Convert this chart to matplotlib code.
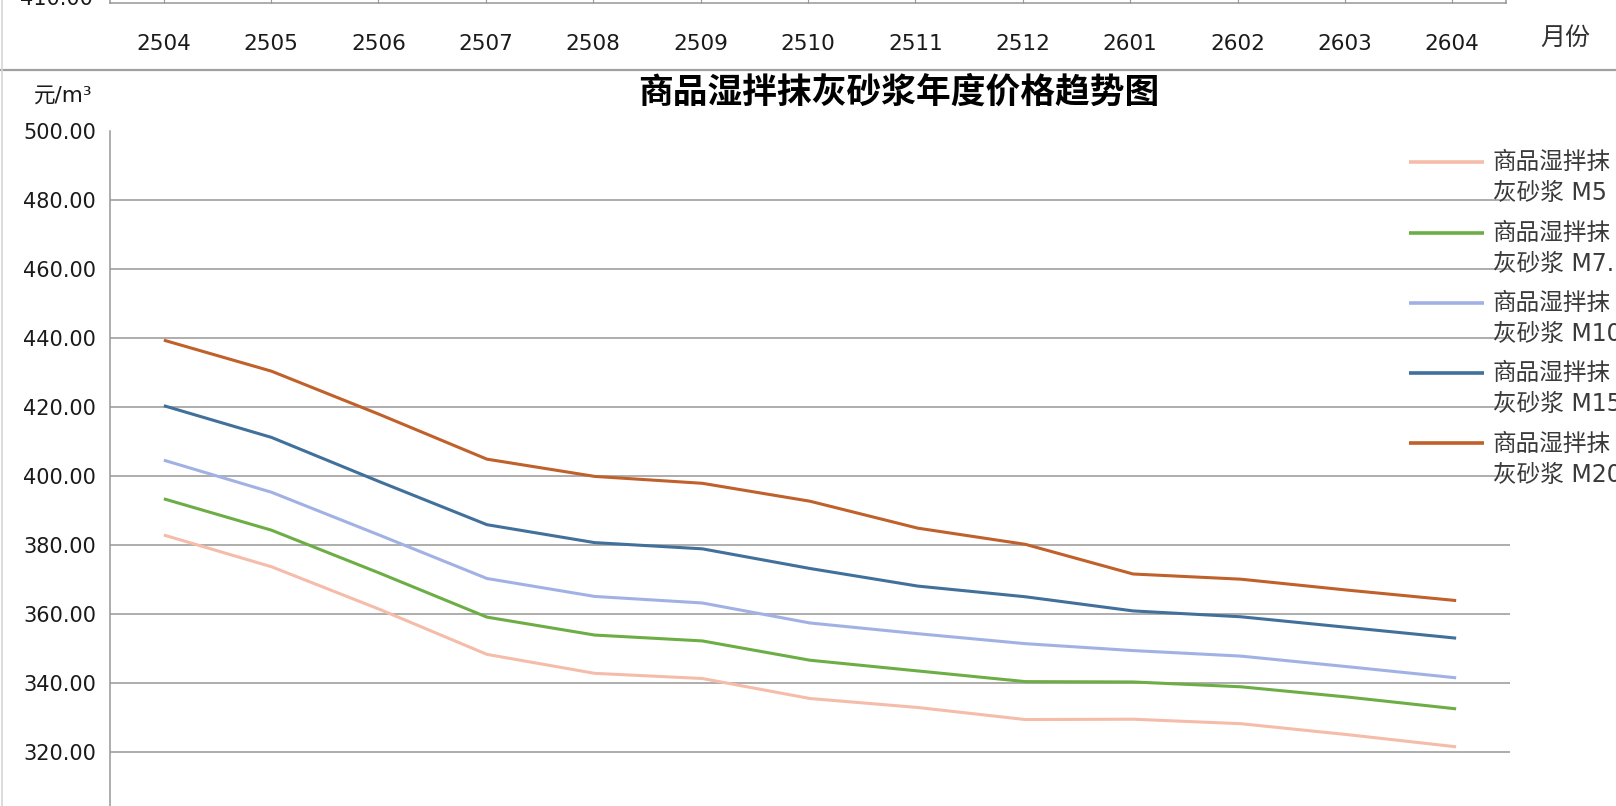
import matplotlib
matplotlib.use("Agg")
import matplotlib.pyplot as plt
from matplotlib.lines import Line2D

# months on the category axis
months = ["2504", "2505", "2506", "2507", "2508", "2509", "2510",
          "2511", "2512", "2601", "2602", "2603", "2604"]

# prices, yuan per cubic metre
m5 = [383.0, 373.8, 361.5, 348.4, 342.9, 341.4, 335.6, 333.0, 329.5, 329.6, 328.3, 325.1, 321.6]
m75 = [393.5, 384.4, 372.0, 359.2, 354.0, 352.3, 346.7, 343.6, 340.5, 340.4, 339.0, 336.0, 332.6]
m10 = [404.7, 395.4, 383.0, 370.4, 365.2, 363.3, 357.5, 354.4, 351.5, 349.5, 347.9, 344.8, 341.6]
m15 = [420.5, 411.3, 398.5, 386.0, 380.8, 379.0, 373.3, 368.2, 365.1, 361.0, 359.3, 356.2, 353.1]
m20 = [439.5, 430.5, 418.0, 405.0, 400.0, 398.0, 392.8, 385.0, 380.3, 371.7, 370.2, 367.0, 364.0]

names = ["商品湿拌抹灰砂浆 M5", "商品湿拌抹灰砂浆 M7.5", "商品湿拌抹灰砂浆 M10",
         "商品湿拌抹灰砂浆 M15", "商品湿拌抹灰砂浆 M20"]
colors = ["#f5bca9", "#6cae45", "#a2b1e3", "#41709b", "#c0602a"]

yticks = [320, 340, 360, 380, 400, 420, 440, 460, 480, 500]

W, H = 1616, 806
CJK = ["Noto Sans CJK SC", "DejaVu Sans"]
LAT = ["DejaVu Sans", "Noto Sans CJK SC"]
GRID = "#979797"
INK = "#1a1a1a"


def fx(px):
    return px / W


def fy(py):
    return 1 - py / H


fig = plt.figure(figsize=(W / 100, H / 100), dpi=100)

# main chart
ax = fig.add_axes([fx(110), fy(821.3), 1400 / W, (821.3 - 131.5) / H])
x = list(range(len(months)))
for vals, c in zip([m5, m75, m10, m15, m20], colors):
    ax.plot(x, vals, color=c, lw=2.2, solid_joinstyle="round", solid_capstyle="butt")
ax.set_xlim(-0.5, len(months) - 0.5)
ax.set_ylim(300, 500)
ax.set_xticks(x)
ax.set_yticks(yticks)
ax.set_yticklabels([f"{v:.2f}" for v in yticks])
ax.grid(axis="y", color=GRID, lw=1.1)
ax.set_axisbelow(True)
for s in ["top", "right", "bottom"]:
    ax.spines[s].set_visible(False)
ax.spines["left"].set_color(GRID)
ax.spines["left"].set_linewidth(1.1)
ax.tick_params(axis="y", length=0, pad=10, labelsize=15, labelcolor=INK)
ax.tick_params(axis="x", length=0, labelbottom=False)

# remains of the chart above (its bottom axis)
ax_top = fig.add_axes([fx(110), fy(3), 1396 / W, 0.2])
ax_top.set_facecolor("none")
ax_top.set_xlim(-0.5, len(months) - 0.5)
ax_top.set_xticks(x)
ax_top.set_xticklabels(months)
ax_top.set_yticks([])
ax_top.spines["top"].set_visible(False)
for s in ["bottom", "left", "right"]:
    ax_top.spines[s].set_color(GRID)
    ax_top.spines[s].set_linewidth(1.1)
ax_top.tick_params(axis="x", direction="in", length=8, color=GRID, pad=22,
                   labelsize=15.5, labelcolor=INK)
fig.text(fx(93), fy(-1), "410.00", ha="right", va="center", fontsize=15, color=INK)
fig.text(fx(1565), fy(38), "月份", ha="center", va="center", family=CJK, fontsize=18, color="#303030")

# chart frame lines
fig.add_artist(Line2D([0, 1], [fy(70), fy(70)], transform=fig.transFigure, color="#a0a0a0", lw=1.6))
fig.add_artist(Line2D([fx(1.5), fx(1.5)], [0, 1], transform=fig.transFigure, color="#d6d6d6", lw=1.2))

fig.text(fx(899), fy(92), "商品湿拌抹灰砂浆年度价格趋势图", ha="center", va="center",
         family=CJK, fontsize=25, fontweight="bold", color="black")
fig.text(fx(63), fy(96), "元/m³", ha="center", va="center", family=LAT, fontsize=15.5, color=INK)

# legend, wrapped in two lines like the original
for i, (name, c) in enumerate(zip(names, colors)):
    yy = 162.3 + 70.3 * i
    fig.add_artist(Line2D([fx(1409), fx(1484)], [fy(yy), fy(yy)], transform=fig.transFigure,
                          color=c, lw=2.6, solid_capstyle="butt"))
    fig.text(fx(1493), fy(yy), name[:5], ha="left", va="center", family=LAT, fontsize=17, color="#3a3a3a")
    fig.text(fx(1493), fy(yy + 31), name[5:], ha="left", va="center", family=LAT, fontsize=17, color="#3a3a3a")

fig.savefig("out.png", dpi=100)
